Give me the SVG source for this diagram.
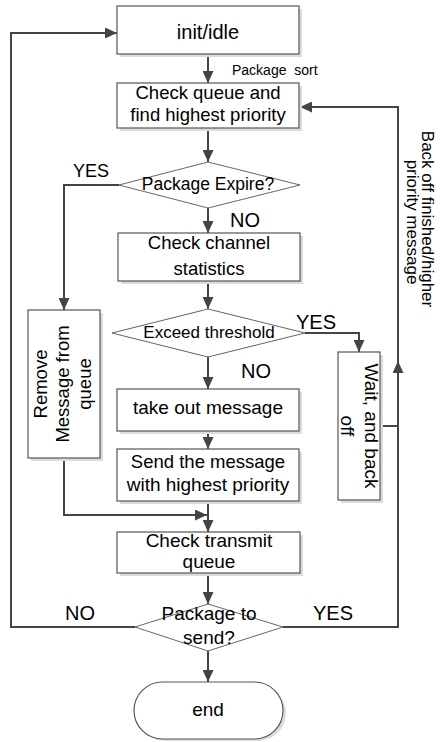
<svg xmlns="http://www.w3.org/2000/svg" width="440" height="742" viewBox="0 0 440 742">
<style>
.box{fill:#fff;stroke:#555;stroke-width:1.2}
.sh{fill:#dcdcdc}
.dia{fill:#fff;stroke:#666;stroke-width:1}
.t{font-family:"Liberation Sans",Arial,sans-serif;font-size:18.5px;fill:#000;text-anchor:middle}
.s{font-size:17px}
.lab{font-family:"Liberation Sans",Arial,sans-serif;font-size:20px;fill:#000}
.c{fill:none;stroke:#444;stroke-width:2}
</style>
<defs>
<marker id="ah" markerUnits="userSpaceOnUse" markerWidth="12" markerHeight="11" refX="12" refY="5.5" orient="auto">
<path d="M0,0 L12,5.5 L0,11 z" fill="#444"/>
</marker>
</defs>
<rect width="440" height="742" fill="#fff"/>

<g id="connectors">
<path class="c" d="M208,54 V83" marker-end="url(#ah)"/>
<path class="c" d="M208,128 V162" marker-end="url(#ah)"/>
<path class="c" d="M208,208 V233" marker-end="url(#ah)"/>
<path class="c" d="M119,185 H64 V310" marker-end="url(#ah)"/>
<path class="c" d="M208,281 V309" marker-end="url(#ah)"/>
<path class="c" d="M305,333 H359 V352" marker-end="url(#ah)"/>
<path class="c" d="M208,357 V389" marker-end="url(#ah)"/>
<path class="c" d="M208,431 V449" marker-end="url(#ah)"/>
<path class="c" d="M208,501 V532" marker-end="url(#ah)"/>
<path class="c" d="M64,458 V515 H207" marker-end="url(#ah)"/>
<path class="c" d="M208,573 V604" marker-end="url(#ah)"/>
<path class="c" d="M208,651 V682" marker-end="url(#ah)"/>
<path class="c" d="M135,627 H11 V33 H117" marker-end="url(#ah)"/>
<path class="c" d="M283,627 H398 V107 H300" marker-end="url(#ah)"/>
<path class="c" d="M380,426 H398"/>
<path class="c" d="M398,376 V361" marker-end="url(#ah)"/>
<text class="t" x="232" y="75" style="font-size:14px;text-anchor:start" xml:space="preserve">Package  sort</text>
<text class="lab" x="73" y="177" style="font-size:18px">YES</text>
<text class="lab" x="230" y="227">NO</text>
<text class="lab" x="296" y="329">YES</text>
<text class="lab" x="241" y="378">NO</text>
<text class="lab" x="65" y="620">NO</text>
<text class="lab" x="313" y="620">YES</text>
<text class="t s" transform="translate(422,219) rotate(90)">Back off finished/higher</text>
<text class="t s" transform="translate(407,222) rotate(90)">priority message</text>
</g>

<g id="init">
<rect class="sh" x="120" y="9" width="182" height="48"/>
<rect class="box" x="117" y="6" width="182" height="48"/>
<text class="t" x="208" y="39" style="font-size:20px">init/idle</text>
</g>

<g id="checkQueue">
<rect class="sh" x="120" y="86" width="182" height="45"/>
<rect class="box" x="117" y="83" width="182" height="45"/>
<text class="t" x="208" y="99">Check queue and</text>
<text class="t" x="208" y="121">find highest priority</text>
</g>

<g id="expire">
<polygon class="dia" points="208,162 300,185 208,208 119,185"/>
<text class="t" x="208" y="190" style="font-size:17.5px">Package Expire?</text>
</g>

<g id="channel">
<rect class="sh" x="121" y="236" width="182" height="48"/>
<rect class="box" x="118" y="233" width="182" height="48"/>
<text class="t" x="209" y="249">Check channel</text>
<text class="t" x="209" y="275">statistics</text>
</g>

<g id="threshold">
<polygon class="dia" points="208,309 305,333 208,357 112,333"/>
<text class="t" x="209" y="338" style="font-size:17px">Exceed threshold</text>
</g>

<g id="remove">
<rect class="sh" x="31" y="313" width="72" height="148"/>
<rect class="box" x="28" y="310" width="72" height="148"/>
<text class="t" transform="translate(47,384) rotate(-90)">Remove</text>
<text class="t" transform="translate(69,384) rotate(-90)">Message from</text>
<text class="t" transform="translate(91,384) rotate(-90)">queue</text>
</g>

<g id="wait">
<rect class="sh" x="341" y="355" width="42" height="148"/>
<rect class="box" x="338" y="352" width="42" height="148"/>
<text class="t" transform="translate(365,426) rotate(90)" style="font-size:19px">Wait, and back</text>
<text class="t" transform="translate(341,426) rotate(90)" style="font-size:19px">off</text>
</g>

<g id="takeOut">
<rect class="sh" x="120" y="392" width="182" height="42"/>
<rect class="box" x="117" y="389" width="182" height="42"/>
<text class="t" x="208" y="414" style="font-size:19px">take out message</text>
</g>

<g id="send">
<rect class="sh" x="120" y="452" width="182" height="52"/>
<rect class="box" x="117" y="449" width="182" height="52"/>
<text class="t" x="208" y="468">Send the message</text>
<text class="t" x="208" y="491" style="font-size:19px">with highest priority</text>
</g>

<g id="transmit">
<rect class="sh" x="120" y="535" width="183" height="41"/>
<rect class="box" x="117" y="532" width="183" height="41"/>
<text class="t" x="209" y="547" style="font-size:19px">Check transmit</text>
<text class="t" x="209" y="568" style="font-size:19px">queue</text>
</g>

<g id="toSend">
<polygon class="dia" points="208,604 283,627 208,651 135,627"/>
<text class="t" x="209" y="620" style="font-size:19px">Package to</text>
<text class="t" x="209" y="644" style="font-size:19px">send?</text>
</g>

<g id="end">
<rect class="sh" x="137" y="685" width="149" height="56" rx="28"/>
<rect class="box" x="134" y="682" width="149" height="57" rx="28.5"/>
<text class="t" x="208" y="716" style="font-size:19px">end</text>
</g>
</svg>
